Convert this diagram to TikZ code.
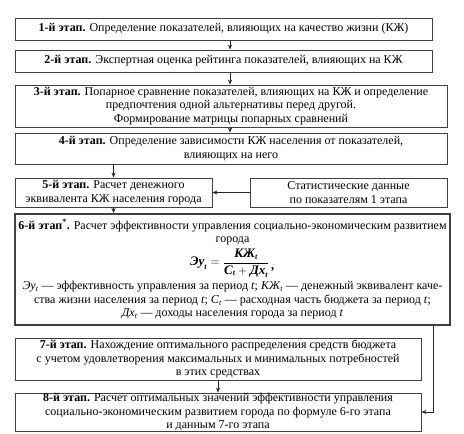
\documentclass[tikz,border=0pt]{standalone}
\usepackage{amsmath}
\usepackage{fontspec}
\setmainfont{Liberation Serif}
\usetikzlibrary{arrows.meta}
\newcommand{\myit}[1]{\textit{#1}}
\newcommand{\mysub}{\ensuremath{_{\mbox{\itshape\footnotesize t}}}}
\newcommand{\deffont}{\fontsize{12}{12.2}\selectfont}
\begin{document}
\begin{tikzpicture}[x=1pt,y=-1pt,
  box/.style={draw=black!75, line width=0.8pt, align=center, inner sep=0pt,
    font=\fontsize{12}{13.5}\selectfont, text=black},
  bigbox/.style={box, line width=2pt},
  arr/.style={-{Stealth[length=5pt,width=4pt]}, line width=0.7pt, draw=black!85}]
\useasboundingbox (0,0) rectangle (464,434);
\node[box, minimum width=417pt, minimum height=22pt] (b1) at (223.5,29)
  {\textbf{1-й этап.} Определение показателей, влияющих на качество жизни (КЖ)};
\node[box, minimum width=417pt, minimum height=22pt] (b2) at (223.5,61)
  {\textbf{2-й этап.} Экспертная оценка рейтинга показателей, влияющих на КЖ};
\node[box, minimum width=432pt, minimum height=42pt] (b3) at (231,106)
  {\textbf{3-й этап.} Попарное сравнение показателей, влияющих на КЖ и определение\\
   предпочтения одной альтернативы перед другой.\\
   Формирование матрицы попарных сравнений};
\node[box, minimum width=432pt, minimum height=31pt] (b4) at (231,148.5)
  {\textbf{4-й этап.} Определение зависимости КЖ населения от показателей,\\
   влияющих на него};
\node[box, minimum width=197pt, minimum height=29pt] (b5) at (113.5,192.5)
  {\textbf{5-й этап.} Расчет денежного\\ эквивалента КЖ населения города};
\node[box, minimum width=197pt, minimum height=29pt] (s) at (348.5,192.5)
  {Статистические данные\\ по показателям 1 этапа};
\node[bigbox, minimum width=435pt, minimum height=111pt] (b6) at (232.5,269.5)
  {\textbf{6-й этап\textsuperscript{*}.} Расчет эффективности управления социально-экономическим развитием\\
   города\\[3pt]
   \fontsize{13}{14}\selectfont\bfseries\itshape $\mbox{Эу}\mysub = \dfrac{\mbox{КЖ}\mysub}{\mbox{C}\mysub + \mbox{Дх}\mysub}$\,\raisebox{-4pt}{,}\\[3pt]
   \deffont \myit{Эу}\mysub{} — эффективность управления за период \myit{t}; \myit{КЖ}\mysub{} — денежный эквивалент каче-\\
   \deffont ства жизни населения за период \myit{t}; \myit{C}\mysub{} — расходная часть бюджета за период \myit{t};\\
   \deffont \myit{Дх}\mysub{} — доходы населения города за период \myit{t}};
\node[box, minimum width=406pt, minimum height=42pt] (b7) at (218,359)
  {\textbf{7-й этап.} Нахождение оптимального распределения средств бюджета\\
   с учетом удовлетворения максимальных и минимальных потребностей\\
   в этих средствах};
\node[box, minimum width=406pt, minimum height=38pt] (b8) at (218,412)
  {\textbf{8-й этап.} Расчет оптимальных значений эффективности управления\\
   социально-экономическим развитием города по формуле 6-го этапа\\
   и данным 7-го этапа};
\coordinate (c1) at (433,412);
\coordinate (x1) at (230,0);
\draw[arr] (b1.south -| x1) -- (b2.north -| x1);
\draw[arr] (b2.south -| x1) -- (b3.north -| x1);
\draw[arr] (b3.south -| x1) -- (b4.north -| x1);
\draw[arr] (b4.south -| b5) -- (b5.north);
\draw[arr] (b5.south) -- (b6.north -| b5);
\draw[arr] (s.west) -- (b5.east);
\draw[arr] (b7.south) -- (b8.north);
\draw[arr] (b6.south -| c1) -- (c1) -- (b8.east);
\end{tikzpicture}
\end{document}
